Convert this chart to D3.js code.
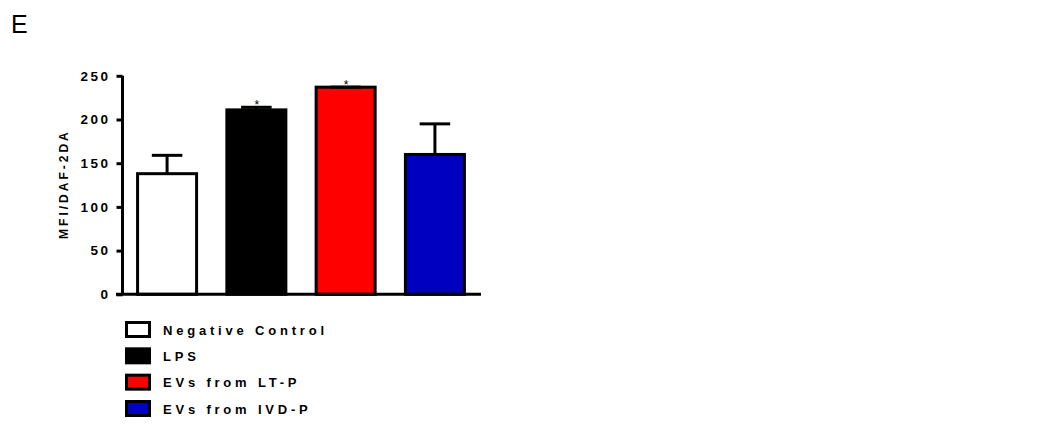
<!DOCTYPE html>
<html>
<head>
<meta charset="utf-8">
<script src="https://cdn.jsdelivr.net/npm/d3@7"></script>
<style>
  html, body { margin: 0; padding: 0; background: #fff; }
  svg { display: block; }
</style>
</head>
<body>
<svg id="chart" width="1045" height="431"></svg>
<script>
const categories = ["Negative Control", "LPS", "EVs from LT-P", "EVs from IVD-P"];
const means = [138, 211, 237, 160];
const errors = [21, 3, 0, 35];
const colors = ["#ffffff", "#000000", "#ff0000", "#0000c0"];
const significant = [false, true, true, false];
const yTicks = [0, 50, 100, 150, 200, 250];
const yTitle = "MFI/DAF-2DA";
const panelLabel = "E";

const svg = d3.select("#chart");
const FONT = "'Liberation Sans', Arial, sans-serif";

const y = d3.scaleLinear().domain([0, 250]).range([294.3, 75.8]);
const x = d3.scaleBand().domain(categories).range([122.4, 479.6])
  .paddingInner(0.339).paddingOuter(0.17);

// panel label
svg.append("text").attr("x", 11).attr("y", 33)
  .attr("font-family", FONT).attr("font-size", 25).attr("fill", "#000")
  .text(panelLabel);

// bars
const g = svg.append("g");
g.selectAll("rect.bar").data(categories).join("rect")
  .attr("class", "bar")
  .attr("x", d => x(d))
  .attr("y", (d, i) => y(means[i]))
  .attr("width", x.bandwidth())
  .attr("height", (d, i) => y(0) - y(means[i]))
  .attr("fill", (d, i) => colors[i])
  .attr("stroke", "#000").attr("stroke-width", 3);

// error bars (upper only)
categories.forEach((c, i) => {
  const cx = x(c) + x.bandwidth() / 2;
  const top = y(means[i] + errors[i]);
  if (errors[i] > 0) {
    g.append("line").attr("x1", cx).attr("x2", cx)
      .attr("y1", y(means[i])).attr("y2", top)
      .attr("stroke", "#000").attr("stroke-width", 3);
  }
  g.append("line").attr("x1", cx - x.bandwidth() / 4 - 0.5).attr("x2", cx + x.bandwidth() / 4 + 0.5)
    .attr("y1", top).attr("y2", top)
    .attr("stroke", "#000").attr("stroke-width", 3);
  if (significant[i]) {
    g.append("text").attr("x", cx + 0.5).attr("y", top + 1.5)
      .attr("text-anchor", "middle")
      .attr("font-family", FONT).attr("font-size", 12).attr("fill", "#000")
      .text("*");
  }
});

// y axis
const yAxis = d3.axisLeft(y).tickValues(yTicks).tickSize(6).tickPadding(6);
const ya = svg.append("g").attr("transform", "translate(122.5,0)").call(yAxis);
ya.select(".domain").attr("stroke", "#000").attr("stroke-width", 3)
  .attr("d", `M0,${y(250)}V${y(0)}`);
ya.selectAll(".tick line").attr("stroke", "#000").attr("stroke-width", 3);
ya.selectAll(".tick text")
  .attr("font-family", FONT).attr("font-size", 13.5).attr("font-weight", "bold")
  .attr("fill", "#000").style("letter-spacing", "2.5px");

// x axis line
svg.append("line").attr("x1", 116).attr("x2", 481)
  .attr("y1", y(0)).attr("y2", y(0))
  .attr("stroke", "#000").attr("stroke-width", 3);

// y title
svg.append("text")
  .attr("transform", `translate(68,${(y(0) + y(250)) / 2 - 1}) rotate(-90)`)
  .attr("text-anchor", "middle")
  .attr("font-family", FONT).attr("font-size", 12).attr("font-weight", "bold")
  .style("letter-spacing", "3px")
  .text(yTitle);

// legend
const lg = svg.append("g");
const rowY = d3.scalePoint().domain(categories).range([329.5, 408.5]);
categories.forEach((c, i) => {
  lg.append("rect").attr("x", 126.5).attr("y", rowY(c) - 7)
    .attr("width", 23).attr("height", 14)
    .attr("fill", colors[i]).attr("stroke", "#000").attr("stroke-width", 3);
  lg.append("text").attr("x", 163).attr("y", rowY(c) + 5)
    .attr("font-family", FONT).attr("font-size", 13).attr("font-weight", "bold")
    .attr("fill", "#000")
    .style("letter-spacing", "3.8px")
    .text(c);
});
</script>
</body>
</html>
